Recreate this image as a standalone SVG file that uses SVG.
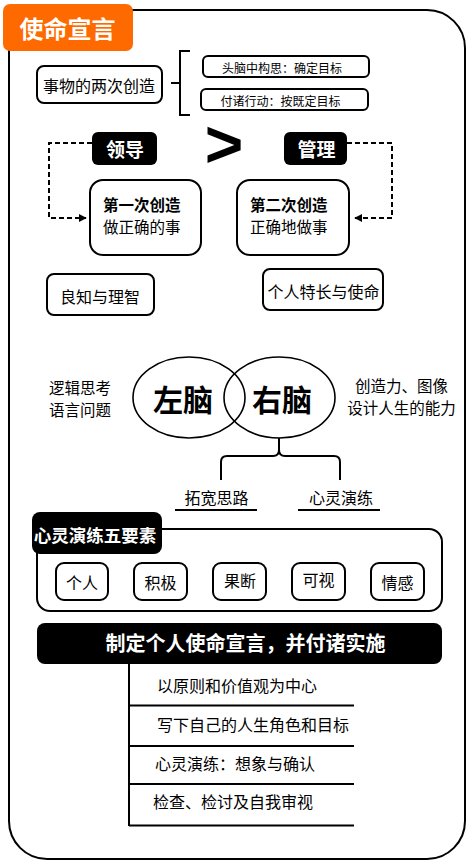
<svg xmlns="http://www.w3.org/2000/svg" width="473" height="866" viewBox="0 0 473 866">
<style>
text{font-family:"Noto Sans CJK SC","Noto Sans",sans-serif;fill:#000;dominant-baseline:central}
.box{fill:#fff;stroke:#000;stroke-width:2}
.blk{fill:#000;stroke:none}
.wt{fill:#fff;font-weight:bold}
.b{font-weight:bold}
.ln{fill:none;stroke:#000;stroke-width:2}
.dash{fill:none;stroke:#000;stroke-width:2;stroke-dasharray:5 3}
.c{text-anchor:middle}
</style>
<defs>
<marker id="ah" viewBox="0 0 10 10" refX="9" refY="5" markerWidth="4" markerHeight="4" orient="auto-start-reverse" markerUnits="strokeWidth">
<path d="M0,0 L10,5 L0,10 z" fill="#000"/>
</marker>
</defs>
<rect width="473" height="866" fill="#fff"/>
<rect id="frame" x="9" y="10" width="456" height="849" rx="38" ry="38" class="ln"/>
<g id="title">
<rect x="3" y="4" width="130" height="47" rx="7" fill="#ff6a00"/>
<text x="67.5" y="27" class="c wt" style="font-size:24px">使命宣言</text>
</g>
<g id="connectors">
<path class="ln" d="M190,51 H180 V115 H190 M171,83 H180"/>
<path class="dash" d="M92,143 H49 V218 H86" marker-end="url(#ah)"/>
<path class="dash" d="M347,143 H392 V218 H355" marker-end="url(#ah)"/>
<path class="ln" stroke-width="1.6" d="M279,438 V450 Q279,456 273,456 H227 Q221,456 221,462 V480 M279,450 Q279,456 285,456 H334 Q340,456 340,462 V480"/>
<path class="ln" d="M175,510 H257 M298,510 H380"/>
<path class="ln" d="M129,664 V826 M129,705.5 H354 M129,746 H354 M129,784 H354 M129,825.5 H354"/>
</g>
<g id="two-creations">
<rect x="37" y="66" width="125" height="37" rx="7" class="box"/>
<text x="99" y="85" class="c" style="font-size:16px">事物的两次创造</text>
</g>
<g id="mind">
<rect x="203" y="56" width="166" height="21" rx="5" class="box"/>
<text x="282" y="67" class="c" style="font-size:12px">头脑中构思：确定目标</text>
</g>
<g id="action">
<rect x="201" y="89" width="167" height="21" rx="5" class="box"/>
<text x="280.5" y="100.5" class="c" style="font-size:12px">付诸行动：按既定目标</text>
</g>
<g id="lead">
<rect x="92" y="132" width="65" height="33" rx="6" class="blk"/>
<text x="125" y="148" class="c wt" style="font-size:19px">领导</text>
</g>
<g id="gt">
<text x="224" y="144" class="c b" style="font-family:'Liberation Sans',Arial,sans-serif;font-size:66px">&gt;</text>
</g>
<g id="manage">
<rect x="284" y="132" width="63" height="33" rx="6" class="blk"/>
<text x="316.5" y="148" class="c wt" style="font-size:19px">管理</text>
</g>
<g id="first">
<rect x="90" y="180" width="111" height="75" rx="13" class="box"/>
<text x="103" y="204" class="b" style="font-size:15.5px">第一次创造</text>
<text x="103" y="226" style="font-size:15.5px">做正确的事</text>
</g>
<g id="second">
<rect x="237" y="180" width="112" height="75" rx="13" class="box"/>
<text x="250" y="204" class="b" style="font-size:15.5px">第二次创造</text>
<text x="250" y="226" style="font-size:15.5px">正确地做事</text>
</g>
<g id="conscience">
<rect x="47" y="274" width="107" height="41" rx="7" class="box"/>
<text x="100" y="296" class="c" style="font-size:16px">良知与理智</text>
</g>
<g id="talent">
<rect x="263" y="269" width="120" height="41" rx="7" class="box"/>
<text x="323.5" y="291" class="c" style="font-size:16px">个人特长与使命</text>
</g>
<g id="left-note">
<text x="80" y="387" class="c" style="font-size:15.5px">逻辑思考</text>
<text x="80" y="409" class="c" style="font-size:15.5px">语言问题</text>
</g>
<g id="left-brain">
<ellipse cx="189" cy="397.5" rx="56" ry="40.5" fill="none" stroke="#000" stroke-width="1.6"/>
<text x="183" y="397.5" class="c b" style="font-size:30px">左脑</text>
</g>
<g id="right-brain">
<ellipse cx="279.5" cy="397.5" rx="55.5" ry="40.5" fill="none" stroke="#000" stroke-width="1.6"/>
<text x="282" y="397.5" class="c b" style="font-size:30px">右脑</text>
</g>
<g id="right-note">
<text x="401.5" y="385" class="c" style="font-size:15.5px">创造力、图像</text>
<text x="401.5" y="407" class="c" style="font-size:15.5px">设计人生的能力</text>
</g>
<g id="broaden">
<text x="216.5" y="496.5" class="c" style="font-size:16px">拓宽思路</text>
</g>
<g id="rehearsal">
<text x="341" y="496.5" class="c" style="font-size:16px">心灵演练</text>
</g>
<g id="five-elements">
<rect x="37" y="529" width="405" height="82" rx="13" class="box"/>
<rect x="32" y="512" width="130" height="42" rx="8" class="blk"/>
<text x="95" y="534" class="c wt" style="font-size:17.5px">心灵演练五要素</text>
</g>
<g id="e1"><rect x="56" y="563" width="52" height="37" rx="8" class="box"/><text x="82" y="581.5" class="c" style="font-size:16px">个人</text></g>
<g id="e2"><rect x="134" y="563" width="53" height="37" rx="8" class="box"/><text x="160.5" y="582" class="c" style="font-size:16px">积极</text></g>
<g id="e3"><rect x="213" y="563" width="53" height="37" rx="8" class="box"/><text x="240" y="580" class="c" style="font-size:16px">果断</text></g>
<g id="e4"><rect x="292" y="563" width="53" height="37" rx="8" class="box"/><text x="318.5" y="579" class="c" style="font-size:16px">可视</text></g>
<g id="e5"><rect x="371" y="563" width="53" height="37" rx="8" class="box"/><text x="397.5" y="582" class="c" style="font-size:16px">情感</text></g>
<g id="banner">
<rect x="37" y="623" width="405" height="41" rx="8" class="blk"/>
<text x="245.5" y="642.5" class="c wt" style="font-size:20px">制定个人使命宣言，并付诸实施</text>
</g>
<g id="s1"><text x="157" y="684.5" style="font-size:16px">以原则和价值观为中心</text></g>
<g id="s2"><text x="157" y="723.5" style="font-size:16px">写下自己的人生角色和目标</text></g>
<g id="s3"><text x="155" y="763" style="font-size:16px">心灵演练：想象与确认</text></g>
<g id="s4"><text x="153" y="801" style="font-size:16px">检查、检讨及自我审视</text></g>
</svg>
